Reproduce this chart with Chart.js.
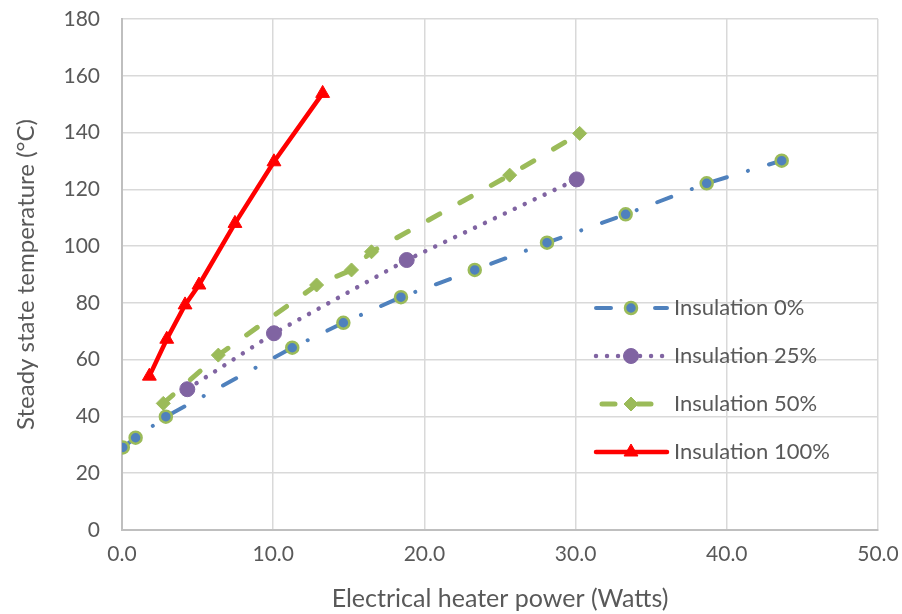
<!DOCTYPE html>
<html>
<head>
<meta charset="utf-8">
<script src="https://cdn.jsdelivr.net/npm/chart.js@4/dist/chart.umd.min.js"></script>
<style>
html,body{margin:0;padding:0;background:#fff;}
#wrap{width:902px;height:614px;}
</style>
</head>
<body>
<div id="wrap"><canvas id="c" width="902" height="614"></canvas></div>
<script>
// ---- data ----
const seriesNames = ["Insulation 0%", "Insulation 25%", "Insulation 50%", "Insulation 100%"];
const ins0X = [0.05, 0.9, 2.9, 11.26, 14.64, 18.45, 23.33, 28.11, 33.31, 38.67, 43.63];
const ins0Y = [29.1, 32.5, 39.9, 64.2, 73.0, 82.0, 91.6, 101.2, 111.2, 122.1, 130.1];
const ins25X = [4.32, 10.05, 18.83, 30.07];
const ins25Y = [49.6, 69.3, 95.1, 123.5];
const ins50X = [2.73, 6.37, 12.87, 15.18, 16.5, 25.64, 30.27];
const ins50Y = [44.6, 61.6, 86.3, 91.6, 98.0, 125.0, 139.7];
const ins100X = [1.81, 2.96, 4.17, 5.09, 7.47, 10.05, 13.27];
const ins100Y = [54.2, 67.2, 79.3, 86.3, 108.0, 129.7, 153.8];
const xTicks = [0, 10, 20, 30, 40, 50];
const yTicks = [0, 20, 40, 60, 80, 100, 120, 140, 160, 180];
const xTitle = "Electrical heater power (Watts)";
const yTitle = "Steady state temperature (\u00B0C)";

const pts = (xs, ys) => xs.map((x, i) => ({x: x, y: ys[i]}));
const FONT = "Lato, 'Open Sans', sans-serif";
const TXT = "#595959";

const datasets = [
  {label: seriesNames[0], data: pts(ins0X, ins0Y), borderColor: "#4F81BD", backgroundColor: "#4F81BD",
   borderWidth: 4, borderDash: [15, 22, 0.01, 22], borderCapStyle: "round",
   pointStyle: "circle", pointRadius: 6, pointBorderWidth: 2.5, pointBorderColor: "#9BBB59", pointBackgroundColor: "#4F81BD"},
  {label: seriesNames[1], data: pts(ins25X, ins25Y), borderColor: "#8064A2", backgroundColor: "#8064A2",
   borderWidth: 4.5, borderDash: [0.01, 11], borderCapStyle: "round",
   pointStyle: "circle", pointRadius: 7.5, pointBorderWidth: 1, pointBorderColor: "#8064A2", pointBackgroundColor: "#8064A2"},
  {label: seriesNames[2], data: pts(ins50X, ins50Y), borderColor: "#9BBB59", backgroundColor: "#9BBB59",
   borderWidth: 5, borderDash: [13, 23], borderCapStyle: "round",
   pointStyle: "rectRot", pointRadius: 7, pointBorderWidth: 1, pointBorderColor: "#9BBB59", pointBackgroundColor: "#9BBB59"},
  {label: seriesNames[3], data: pts(ins100X, ins100Y), borderColor: "#FF0000", backgroundColor: "#FF0000",
   borderWidth: 4.5, borderDash: [], borderCapStyle: "round",
   pointStyle: "triangle", pointRadius: 8, pointBorderWidth: 1, pointBorderColor: "#FF0000", pointBackgroundColor: "#FF0000"}
];
datasets.forEach(d => { d.showLine = true; d.tension = 0; d.fill = false; d.pointHoverRadius = d.pointRadius; });
datasets.reverse();

function drawMarker(ctx, style, r, x, y, fill, stroke, bw) {
  ctx.save();
  ctx.fillStyle = fill; ctx.strokeStyle = stroke; ctx.lineWidth = bw; ctx.setLineDash([]);
  ctx.beginPath();
  if (style === "circle") {
    ctx.arc(x, y, r, 0, Math.PI * 2);
  } else if (style === "rectRot") {
    ctx.moveTo(x, y - r); ctx.lineTo(x + r, y); ctx.lineTo(x, y + r); ctx.lineTo(x - r, y);
  } else if (style === "triangle") {
    ctx.moveTo(x, y - r); ctx.lineTo(x + r * 0.866, y + r * 0.5); ctx.lineTo(x - r * 0.866, y + r * 0.5);
  }
  ctx.closePath(); ctx.fill(); if (bw > 0) ctx.stroke();
  ctx.restore();
}

const insideLegend = {
  id: "insideLegend",
  afterDraw(chart) {
    const ctx = chart.ctx;
    const x0 = 596, x1 = 667, mx = 631, tx = 674;
    const rows = [308, 356, 404, 452];
    const order = seriesNames.map(n => chart.data.datasets.find(d => d.label === n));
    const offsets = [0, 0, -6, 0];
    order.forEach((d, i) => {
      const y = rows[i];
      ctx.save();
      ctx.strokeStyle = d.borderColor; ctx.lineWidth = d.borderWidth;
      ctx.lineCap = d.borderCapStyle; ctx.setLineDash(d.borderDash); ctx.lineDashOffset = offsets[i];
      ctx.beginPath(); ctx.moveTo(x0, y); ctx.lineTo(x1, y); ctx.stroke();
      ctx.restore();
      drawMarker(ctx, d.pointStyle, d.pointRadius, mx, y, d.pointBackgroundColor, d.pointBorderColor, d.pointBorderWidth);
      ctx.save();
      ctx.fillStyle = TXT; ctx.font = "22px " + FONT; ctx.textBaseline = "middle"; ctx.textAlign = "left";
      ctx.fillText(d.label, tx, y);
      ctx.restore();
    });
  }
};

new Chart(document.getElementById("c"), {
  type: "scatter",
  data: {datasets: datasets},
  options: {
    responsive: false,
    animation: false,
    devicePixelRatio: 1,
    layout: {padding: {left: 0, top: 19, right: 24, bottom: 0}},
    plugins: {legend: {display: false}, tooltip: {enabled: false}},
    scales: {
      x: {
        type: "linear", min: 0, max: 50,
        afterBuildTicks: s => { s.ticks = xTicks.map(v => ({value: v})); },
        afterFit: s => { s.height = 84; },
        ticks: {color: TXT, font: {family: FONT, size: 21}, padding: 2, callback: v => Number(v).toFixed(1), maxRotation: 0},
        grid: {color: "#D9D9D9", lineWidth: 1.5, drawTicks: true, tickLength: 10, tickColor: "rgba(0,0,0,0)"},
        border: {color: "#BFBFBF", width: 2},
        title: {display: true, text: xTitle, color: TXT, font: {family: FONT, size: 25}, padding: {top: 0, bottom: 0}}
      },
      y: {
        type: "linear", min: 0, max: 180,
        afterBuildTicks: s => { s.ticks = yTicks.map(v => ({value: v})); },
        afterFit: s => { s.width = 122; },
        ticks: {color: TXT, font: {family: FONT, size: 21}, padding: 2},
        grid: {color: "#D9D9D9", lineWidth: 1.5, drawTicks: true, tickLength: 20, tickColor: "rgba(0,0,0,0)"},
        border: {color: "#BFBFBF", width: 2},
        title: {display: true, text: yTitle, color: TXT, font: {family: FONT, size: 24}, padding: {top: 12, bottom: 0}}
      }
    }
  },
  plugins: [insideLegend]
});
</script>
</body>
</html>
